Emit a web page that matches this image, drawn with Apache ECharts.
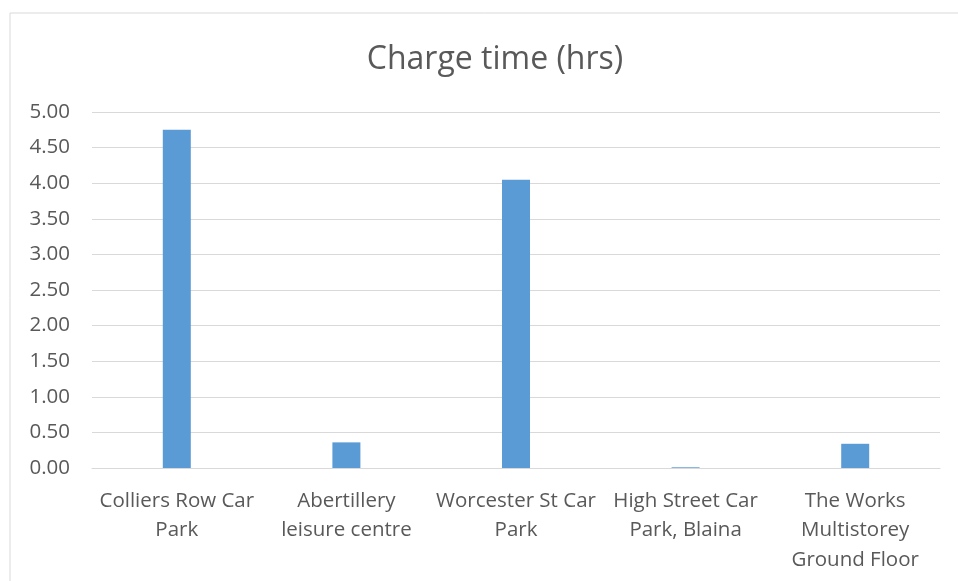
<!DOCTYPE html>
<html>
<head>
<meta charset="utf-8">
<script src="https://cdn.jsdelivr.net/npm/echarts@6/dist/echarts.min.js"></script>
<style>
  html, body { margin: 0; padding: 0; background: #fff; }
  #chart { width: 958px; height: 581px; }
</style>
</head>
<body>
<div id="chart"></div>
<script>
// chart data
const categories = [
  'Colliers Row Car\nPark',
  'Abertillery\nleisure centre',
  'Worcester St Car\nPark',
  'High Street Car\nPark, Blaina',
  'The Works\nMultistorey\nGround Floor'
];
const chargeHours = [4.75, 0.36, 4.05, 0.01, 0.34];

const textColor = '#595959';
const lineColor = '#d9d9d9';
const fontFamily = '"Open Sans", sans-serif';

const chart = echarts.init(document.getElementById('chart'), null, { renderer: 'canvas' });

chart.setOption({
  animation: false,
  backgroundColor: '#fff',
  textStyle: { fontFamily: fontFamily },
  graphic: [{
    type: 'rect',
    shape: { x: 10, y: 13, width: 960, height: 620 },
    style: { fill: 'none', stroke: lineColor, lineWidth: 1 },
    silent: true
  }],
  title: {
    text: 'Charge time (hrs)',
    left: 490,
    top: 39,
    textAlign: 'center',
    textStyle: { color: textColor, fontSize: 32, fontWeight: 'normal', fontFamily: fontFamily }
  },
  grid: { left: 92, right: 18, top: 112, bottom: 113, containLabel: false },
  xAxis: {
    type: 'category',
    data: categories,
    axisLine: { lineStyle: { color: lineColor } },
    axisTick: { show: false },
    axisLabel: {
      color: textColor,
      fontSize: 20.5,
      lineHeight: 29.5,
      margin: 18,
      interval: 0
    }
  },
  yAxis: {
    type: 'value',
    min: 0,
    max: 5,
    interval: 0.5,
    axisLine: { show: false },
    axisTick: { show: false },
    splitLine: { lineStyle: { color: lineColor } },
    axisLabel: {
      color: textColor,
      fontSize: 20.5,
      margin: 22,
      formatter: v => v.toFixed(2)
    }
  },
  series: [{
    type: 'bar',
    data: chargeHours,
    barWidth: 28,
    itemStyle: { color: '#5b9bd5' }
  }]
});
</script>
</body>
</html>
